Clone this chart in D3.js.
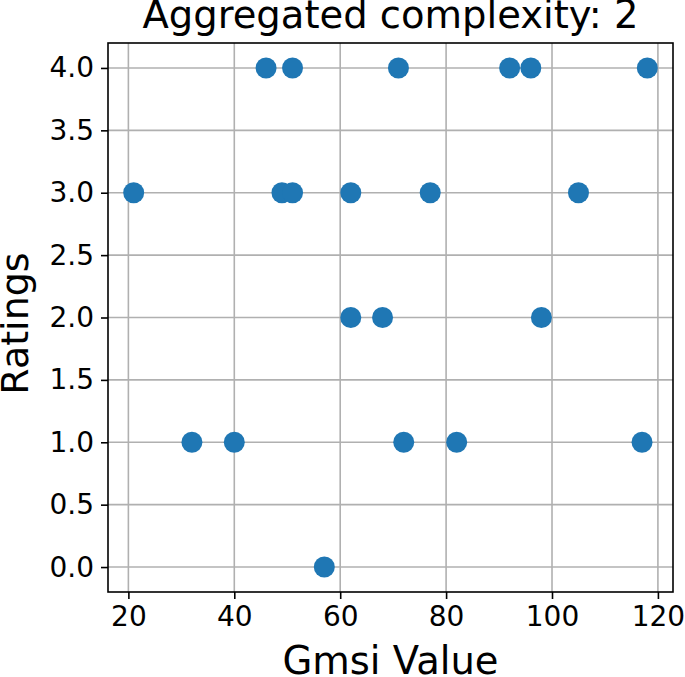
<!DOCTYPE html>
<html>
<head>
<meta charset="utf-8">
<script src="https://cdn.jsdelivr.net/npm/d3@7"></script>
<style>
  html, body { margin: 0; padding: 0; background: #fff; }
  svg { display: block; font-family: "DejaVu Sans", sans-serif; }
</style>
</head>
<body>
<svg id="chart" width="685" height="677"></svg>
<script>
const title = "Aggregated complexity: 2";
const xLabel = "Gmsi Value";
const yLabel = "Ratings";
const gmsi    = [46, 51, 71, 92, 96, 118, 21, 49, 51, 62, 77, 105, 62, 68, 98, 32, 40, 72, 82, 117, 57];
const ratings = [4, 4, 4, 4, 4, 4, 3, 3, 3, 3, 3, 3, 2, 2, 2, 1, 1, 1, 1, 1, 0];
const xTicks = [20, 40, 60, 80, 100, 120];
const yTicks = [0, 0.5, 1, 1.5, 2, 2.5, 3, 3.5, 4];

const svg = d3.select("#chart");
const W = 685, H = 677;
const m = {left: 108, right: W - 673, top: 43, bottom: H - 592};
const iw = W - m.left - m.right, ih = H - m.top - m.bottom;

const xmin = d3.min(gmsi), xmax = d3.max(gmsi);
const xpad = (xmax - xmin) * 0.05;
const ymin = d3.min(ratings), ymax = d3.max(ratings);
const ypad = (ymax - ymin) * 0.05;

const x = d3.scaleLinear().domain([xmin - xpad, xmax + xpad]).range([0, iw]);
const y = d3.scaleLinear().domain([ymin - ypad, ymax + ypad]).range([ih, 0]);

const g = svg.append("g").attr("transform", `translate(${m.left},${m.top})`);

// grid
g.append("g").selectAll("line").data(xTicks).join("line")
  .attr("x1", d => x(d)).attr("x2", d => x(d)).attr("y1", 0).attr("y2", ih)
  .attr("stroke", "#b0b0b0").attr("stroke-width", 1.6);
g.append("g").selectAll("line").data(yTicks).join("line")
  .attr("y1", d => y(d)).attr("y2", d => y(d)).attr("x1", 0).attr("x2", iw)
  .attr("stroke", "#b0b0b0").attr("stroke-width", 1.6);

// points
g.append("g").selectAll("circle").data(gmsi.map((v, i) => [v, ratings[i]])).join("circle")
  .attr("cx", d => x(d[0])).attr("cy", d => y(d[1])).attr("r", 10.5)
  .attr("fill", "#1f77b4");

// axes
const xAxis = d3.axisBottom(x).tickValues(xTicks).tickSize(7).tickPadding(7).tickFormat(d3.format("d"));
const yAxis = d3.axisLeft(y).tickValues(yTicks).tickSize(7).tickPadding(7).tickFormat(d3.format(".1f"));
const gx = g.append("g").attr("transform", `translate(0,${ih})`).call(xAxis);
const gy = g.append("g").call(yAxis);
[gx, gy].forEach(a => {
  a.select(".domain").remove();
  a.selectAll(".tick line").attr("stroke", "#000").attr("stroke-width", 1.6);
  a.selectAll(".tick text").attr("fill", "#000").style("font-size", "28px").style("font-family", "DejaVu Sans");
});

// frame
g.append("rect").attr("x", 0).attr("y", 0).attr("width", iw).attr("height", ih)
  .attr("fill", "none").attr("stroke", "#000").attr("stroke-width", 1.6);

// title and labels
svg.append("text").attr("x", m.left + iw / 2).attr("y", 28).attr("text-anchor", "middle")
  .style("font-size", "38.5px").attr("fill", "#000").text(title);
svg.append("text").attr("x", m.left + iw / 2).attr("y", 674).attr("text-anchor", "middle")
  .style("font-size", "38.5px").attr("fill", "#000").text(xLabel);
svg.append("text").attr("transform", `translate(28,${m.top + ih / 2 + 6}) rotate(-90)`).attr("text-anchor", "middle")
  .style("font-size", "38px").attr("fill", "#000").text(yLabel);
</script>
</body>
</html>
